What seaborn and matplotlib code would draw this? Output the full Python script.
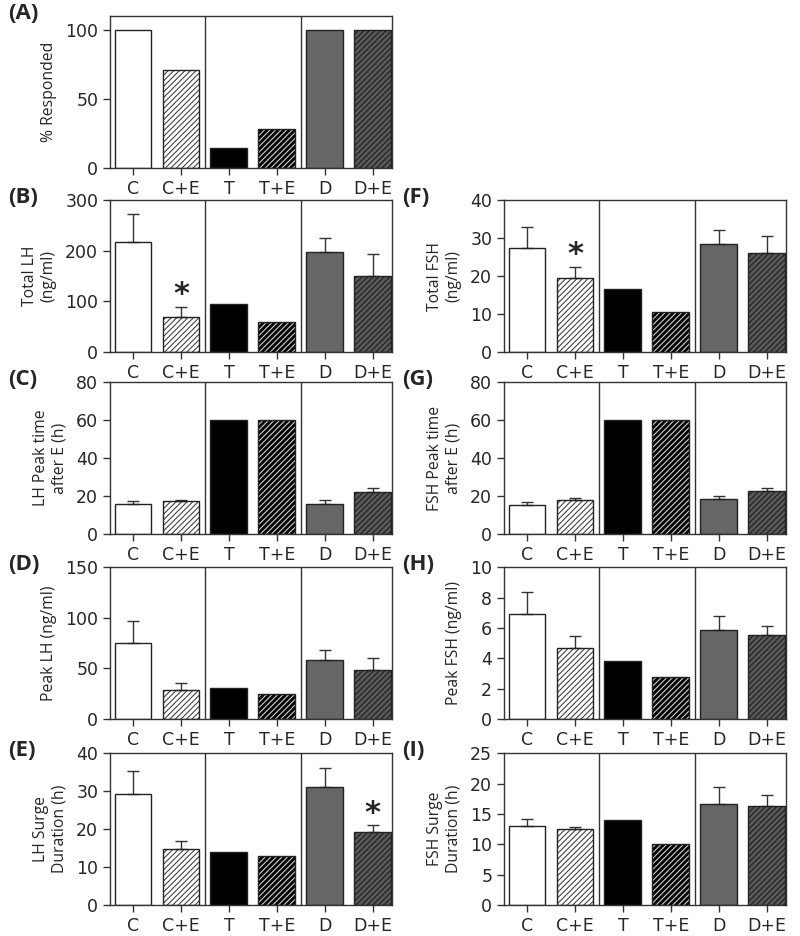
import numpy as np
import matplotlib
matplotlib.use("Agg")
import matplotlib.pyplot as plt
from matplotlib.patches import Rectangle
import seaborn as sns

# groups
groups = ["C", "C+E", "T", "T+E", "D", "D+E"]

# panel values (mean) and upper error (SEM)
resp_A = [100, 71.4, 14.3, 28.6, 100, 100]

total_lh = [218, 70, 96, 60, 198, 151]
total_lh_err = [55, 19, 0, 0, 27, 42]

lh_peak_time = [16, 17.5, 60, 60, 16, 22]
lh_peak_time_err = [1.5, 0.5, 0, 0, 2, 2]

peak_lh = [75, 29, 31, 25, 58, 49]
peak_lh_err = [22, 7, 0, 0, 10, 11]

lh_surge = [29.3, 14.8, 14, 13, 31.1, 19.3]
lh_surge_err = [6, 2, 0, 0, 5.1, 1.7]

total_fsh = [27.5, 19.6, 16.6, 10.6, 28.4, 26.2]
total_fsh_err = [5.4, 2.9, 0, 0, 3.7, 4.5]

fsh_peak_time = [15.2, 18, 60, 60, 18.6, 22.7]
fsh_peak_time_err = [1.6, 1.0, 0, 0, 1.7, 1.5]

peak_fsh = [6.9, 4.7, 3.85, 2.8, 5.9, 5.55]
peak_fsh_err = [1.45, 0.8, 0, 0, 0.9, 0.6]

fsh_surge = [13.1, 12.5, 14, 10, 16.7, 16.3]
fsh_surge_err = [1.0, 0.4, 0, 0, 2.8, 1.9]

# bar styles
face_cols = ["white", "white", "black", "black", "#666666", "#595959"]
hatch_cols = [None, "#444444", None, "#d0d0d0", None, "#1e1e1e"]
hatches = [None, "//////", None, "//////", None, "//////"]

sns.set_style("ticks")
plt.rcParams["hatch.linewidth"] = 0.8
plt.rcParams["font.family"] = ["DejaVu Sans"]

fig = plt.figure(figsize=(8, 9.36), dpi=100)

# (label, values, errors, ylim, yticks, ylabel, star index, column, row)
panels = [
    ("(A)", resp_A, None, 110, [0, 50, 100], "% Responded", None, 0, 0),
    ("(B)", total_lh, total_lh_err, 300, [0, 100, 200, 300], "Total LH\n(ng/ml)", 1, 0, 1),
    ("(C)", lh_peak_time, lh_peak_time_err, 80, [0, 20, 40, 60, 80], "LH Peak time\nafter E (h)", None, 0, 2),
    ("(D)", peak_lh, peak_lh_err, 150, [0, 50, 100, 150], "Peak LH (ng/ml)", None, 0, 3),
    ("(E)", lh_surge, lh_surge_err, 40, [0, 10, 20, 30, 40], "LH Surge\nDuration (h)", 5, 0, 4),
    ("(F)", total_fsh, total_fsh_err, 40, [0, 10, 20, 30, 40], "Total FSH\n(ng/ml)", 1, 1, 1),
    ("(G)", fsh_peak_time, fsh_peak_time_err, 80, [0, 20, 40, 60, 80], "FSH Peak time\nafter E (h)", None, 1, 2),
    ("(H)", peak_fsh, peak_fsh_err, 10, [0, 2, 4, 6, 8, 10], "Peak FSH (ng/ml)", None, 1, 3),
    ("(I)", fsh_surge, fsh_surge_err, 25, [0, 5, 10, 15, 20, 25], "FSH Surge\nDuration (h)", None, 1, 4),
]

col_x = [0.1375, 0.63]
row_bottom = [0.8205, 0.6239, 0.4295, 0.2318, 0.0331]
ax_w, ax_h = 0.3525, 0.162
edge = "#222222"

for label, vals, errs, ytop, yticks, ylab, star, col, row in panels:
    ax = fig.add_axes([col_x[col], row_bottom[row], ax_w, ax_h])
    sns.barplot(x=groups, y=vals, ax=ax, width=0.77, color="white",
                linewidth=0, errorbar=None, saturation=1)
    bars = list(ax.patches)
    for i, p in enumerate(bars):
        p.set_facecolor(face_cols[i])
        if hatches[i]:
            p.set_hatch(hatches[i])
            p.set_edgecolor(hatch_cols[i])
        else:
            p.set_edgecolor(face_cols[i])
        p.set_linewidth(0)
        # outline on top of the hatch
        ax.add_patch(Rectangle(p.get_xy(), p.get_width(), p.get_height(),
                               fill=False, edgecolor=edge, linewidth=1.0, zorder=3))
    if errs is not None:
        e = np.array(errs, dtype=float)
        idx = np.where(e > 0)[0]
        ax.errorbar(idx, np.array(vals)[idx], yerr=[np.zeros(len(idx)), e[idx]],
                    fmt="none", ecolor="#333333", elinewidth=1.0, capsize=4.5,
                    capthick=1.0, zorder=1)
        if star is not None:
            ax.text(star, vals[star] + errs[star] + 0.08 * ytop, "*", ha="center",
                    va="center", fontsize=22, fontweight="bold")
    ax.axvline(1.5, color="#333333", lw=1.0)
    ax.axvline(3.5, color="#333333", lw=1.0)
    ax.set_xlim(-0.48, 5.4)
    ax.set_ylim(0, ytop)
    ax.set_yticks(yticks)
    ax.set_xlabel("")
    ax.set_ylabel(ylab, fontsize=11.3, family=["Open Sans", "DejaVu Sans"], labelpad=6)
    ax.tick_params(axis="both", labelsize=12.5, length=5, width=1, color="#333333",
                   direction="out")
    for s in ax.spines.values():
        s.set_visible(True)
        s.set_linewidth(1.0)
        s.set_color("#333333")
    fig.text(0.01 if col == 0 else 0.503, row_bottom[row] + ax_h + 0.003, label,
             fontsize=16, fontweight="bold", family=["Open Sans", "DejaVu Sans"],
             ha="left", va="center")

fig.savefig("out.png", dpi=100)
